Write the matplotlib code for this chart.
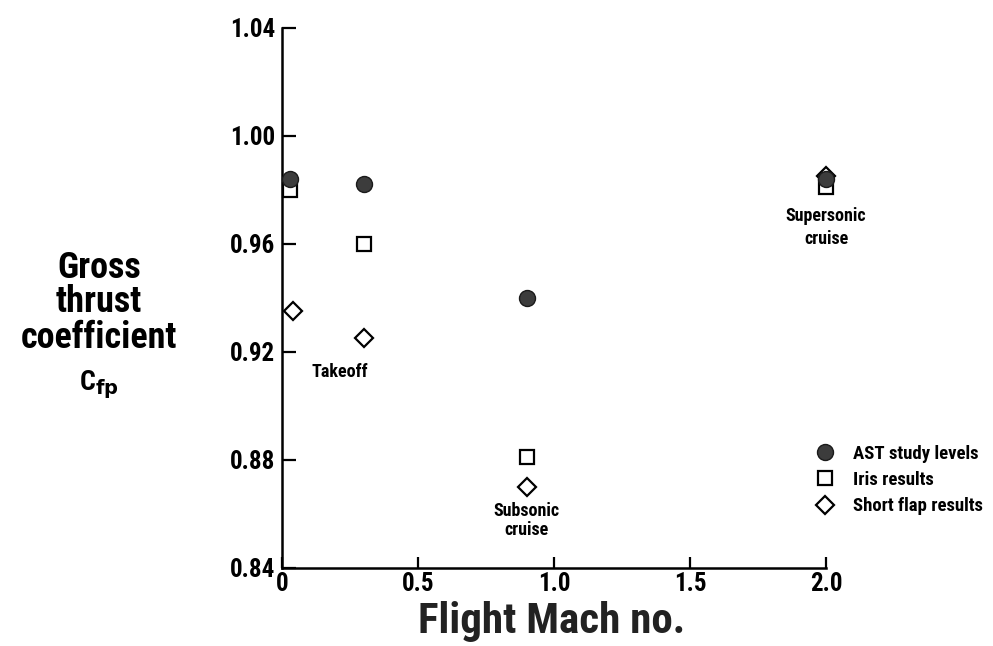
import matplotlib
matplotlib.use("Agg")
import matplotlib.pyplot as plt

FONT = "Roboto Condensed"

mach_ast = [0.03, 0.30, 0.90, 2.00]
cfp_ast = [0.984, 0.982, 0.940, 0.984]

mach_iris = [0.03, 0.30, 0.90, 2.00]
cfp_iris = [0.980, 0.960, 0.881, 0.981]

mach_flap = [0.04, 0.30, 0.90, 2.00]
cfp_flap = [0.935, 0.925, 0.870, 0.985]

xticks = [0, 0.5, 1.0, 1.5, 2.0]
xticklabels = ["0", "0.5", "1.0", "1.5", "2.0"]
yticks = [0.84, 0.88, 0.92, 0.96, 1.00, 1.04]
yticklabels = ["0.84", "0.88", "0.92", "0.96", "1.00", "1.04"]

plt.rcParams["font.family"] = [FONT, "DejaVu Sans"]
plt.rcParams["font.weight"] = "bold"

W, H = 993, 646
fig = plt.figure(figsize=(W / 100, H / 100), dpi=100)
ax = fig.add_axes([0.284, 0.121, 0.548, 0.836])

ax.plot(mach_flap, cfp_flap, linestyle="none", marker="D", markersize=9,
        markerfacecolor="white", markeredgecolor="black", markeredgewidth=1.6,
        clip_on=False, zorder=3, label="Short flap results")
ax.plot(mach_iris, cfp_iris, linestyle="none", marker="s", markersize=10,
        markerfacecolor="white", markeredgecolor="black", markeredgewidth=1.6,
        clip_on=False, zorder=4, label="Iris results")
ax.plot(mach_ast, cfp_ast, linestyle="none", marker="o", markersize=11.5,
        markerfacecolor="#3c3c3c", markeredgecolor="#1a1a1a", markeredgewidth=1.0,
        clip_on=False, zorder=5, label="AST study levels")

ax.set_xlim(0, 2.0)
ax.set_ylim(0.84, 1.04)
ax.set_xticks(xticks)
ax.set_xticklabels(xticklabels, fontsize=18, fontweight="bold")
ax.set_yticks(yticks)
ax.set_yticklabels(yticklabels, fontsize=18, fontweight="bold")
ax.tick_params(axis="both", direction="in", width=1.6, pad=4)
ax.tick_params(axis="y", length=10, pad=5)
ax.tick_params(axis="x", length=8, pad=3)
for s in ["top", "right"]:
    ax.spines[s].set_visible(False)
for s in ["left", "bottom"]:
    ax.spines[s].set_linewidth(1.8)


def fx(px):
    return px / W


def fy(py):
    return 1 - py / H


# axis titles
fig.text(fx(552), fy(622), "Flight Mach no.", fontsize=31, fontweight="bold",
         ha="center", va="center", color="#222222")
for txt, yp in [("Gross", 268), ("thrust", 302), ("coefficient", 338)]:
    fig.text(fx(99), fy(yp), txt, fontsize=26, fontweight="bold",
             ha="center", va="center")
fig.text(fx(99), fy(385), r"C$_{\mathbf{fp}}$", fontsize=20, fontweight="bold",
         ha="center", va="center")

# annotations
fig.text(fx(340), fy(372), "Takeoff", fontsize=13, fontweight="bold",
         ha="center", va="center")
ax.text(0.90, 0.8645, "Subsonic\ncruise", fontsize=13, fontweight="bold",
        ha="center", va="top", linespacing=1.1)
ax.text(2.00, 0.9735, "Supersonic\ncruise", fontsize=13, fontweight="bold",
        ha="center", va="top", linespacing=1.3)

h, l = ax.get_legend_handles_labels()
order = [2, 1, 0]
ax.legend([h[i] for i in order], [l[i] for i in order], loc="center left",
          bbox_to_anchor=(fx(814), fy(480)), bbox_transform=fig.transFigure,
          frameon=False, fontsize=13.5, handletextpad=0.9, labelspacing=0.45,
          handlelength=1.2, borderaxespad=0, borderpad=0)

fig.savefig("out.png", dpi=100)
